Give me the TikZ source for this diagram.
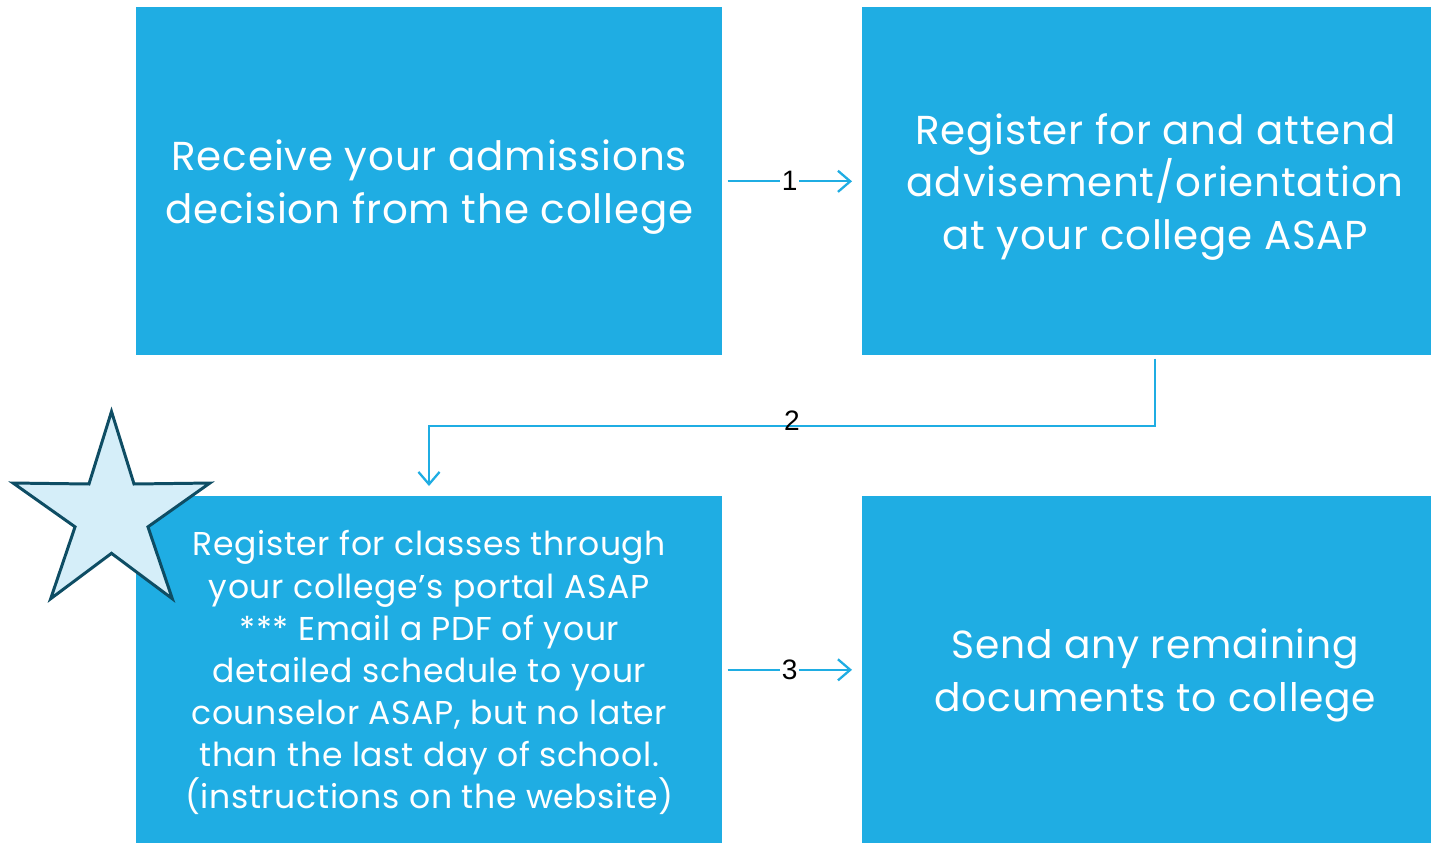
\documentclass[tikz,border=0pt]{standalone}
\usepackage{fontspec}
\setmainfont[LetterSpace=2]{Poppins}
\newfontfamily\numfont{Liberation Sans}
\usetikzlibrary{arrows.meta,positioning,shapes.geometric}
\definecolor{stepblue}{HTML}{1FADE3}
\definecolor{starfill}{HTML}{D5EEF9}
\definecolor{starline}{HTML}{0E4D64}
\tikzset{
  stepbox/.style={fill=stepblue, text=white, align=center, inner sep=0pt,
    minimum width=11.72cm, minimum height=6.96cm, anchor=north west, text depth=0pt},
  bigtext/.style={font=\fontsize{23}{30}\selectfont},
  smalltext/.style={font=\fontsize{18.8}{24}\selectfont},
  steparrow/.style={draw=stepblue, line width=1.3pt, -{Straight Barb[length=7pt,width=12pt]}},
  steplabel/.style={font=\numfont\fontsize{16}{18}\selectfont, text=black, inner sep=1pt}
}
\begin{document}
\begin{tikzpicture}[x=0.02cm, y=-0.02cm]
  \useasboundingbox[fill=white] (0,0) rectangle (1431,843);
  % the four steps (right column runs past the page edge)
  \node[stepbox, bigtext] (receive) at (136,7)
    {Receive your admissions\\decision from the college};
  \node[stepbox, bigtext] (advise) at (862,7)
    {Register for and attend\\advisement/orientation\\at your college ASAP};
  \node[stepbox, smalltext, minimum height=6.94cm] (classes) at (136,496)
    {Register for classes through\\your college’s portal ASAP\\*** Email a PDF of your\\detailed schedule to your\\counselor ASAP, but no later\\than the last day of school.\\(instructions on the website)};
  \node[stepbox, bigtext, minimum height=6.94cm, font=\fontsize{22.3}{30}\selectfont] (documents) at (862,496)
    {Send any remaining\\documents to college};
  % connectors
  \coordinate (turn) at (429,426);
  \draw[steparrow] ([xshift=0.1cm]receive.east) -- node[steplabel, fill=white] {1} ([xshift=-0.2cm]advise.west);
  \draw[steparrow] ([yshift=-0.06cm]advise.south) |- (turn) -- ([yshift=0.2cm]classes.north -| turn);
  \node[steplabel] (two) at (792,421) {2};
  \draw[steparrow] ([xshift=0.1cm]classes.east) -- node[steplabel, fill=white] {3} ([xshift=-0.2cm]documents.west);
  % star
  \node[star, star points=5, star point ratio=2.7, minimum size=4.14cm, inner sep=0pt,
    fill=starfill, draw=starline, line width=1.7pt] (mark) at (111.5,515) {};
\end{tikzpicture}
\end{document}
